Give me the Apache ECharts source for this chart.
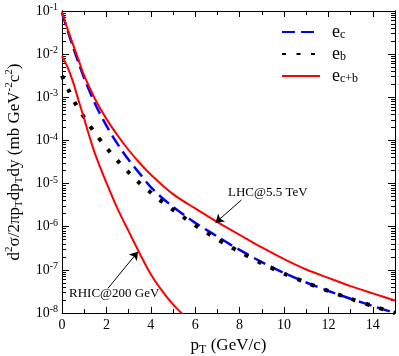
<!DOCTYPE html>
<html>
<head>
<meta charset="utf-8">
<script src="https://cdn.jsdelivr.net/npm/echarts@6/dist/echarts.min.js"></script>
<style>
html, body { margin: 0; padding: 0; background: #fff; }
#chart { width: 399px; height: 356px; }
</style>
</head>
<body>
<div id="chart"></div>
<script>
// LHC@5.5 TeV, charm + bottom electrons
var ptLhcCB = [0, 0.25, 0.5, 0.75, 1, 1.5, 2, 2.5, 3, 3.5, 4, 5, 6, 7, 8, 9, 10, 11, 12, 13, 14, 15];
var lhcCB = [9.5e-2, 3.8e-2, 1.66e-2, 7.3e-3, 3.16e-3, 8.9e-4, 3.16e-4, 1.32e-4, 6.0e-5, 3.0e-5, 1.62e-5,
	5.7e-6, 2.65e-6, 1.28e-6, 6.5e-7, 3.3e-7, 1.78e-7, 1.02e-7, 6.5e-8, 4.2e-8, 2.85e-8, 1.95e-8];

// LHC, charm electrons
var ptLhcC = [0, 0.25, 0.5, 0.75, 1, 1.5, 2, 2.5, 3, 3.5, 4, 4.5, 5, 5.5, 6, 6.5, 7, 7.5, 8, 9, 10, 11, 12, 13, 14, 15];
var lhcC = [9.1e-2, 3.55e-2, 1.45e-2, 6.2e-3, 2.75e-3, 6.9e-4, 2.2e-4, 8.3e-5, 3.55e-5, 1.7e-5, 8.3e-6, 4.7e-6,
	2.9e-6, 1.86e-6, 1.23e-6, 8.5e-7, 5.9e-7, 4.1e-7, 2.9e-7, 1.51e-7, 8.5e-8, 5.1e-8, 3.24e-8, 2.14e-8, 1.45e-8, 1.0e-8];

// LHC, bottom electrons
var ptLhcB = [0, 0.3, 0.6, 1, 1.5, 2, 2.5, 3, 3.5, 4, 4.5, 5, 5.5, 6, 6.5, 7, 7.5, 8, 9, 10, 11, 12, 13, 14, 15];
var lhcB = [3.16e-3, 1.45e-3, 7.2e-4, 3.4e-4, 1.45e-4, 6.8e-5, 3.4e-5, 1.82e-5, 1.02e-5, 6.2e-6, 3.8e-6, 2.45e-6,
	1.62e-6, 1.08e-6, 7.4e-7, 5.1e-7, 3.63e-7, 2.6e-7, 1.41e-7, 8.2e-8, 5.07e-8, 3.24e-8, 2.14e-8, 1.45e-8, 1.0e-8];

// RHIC@200 GeV, charm + bottom electrons
var ptRhicCB = [0, 0.25, 0.5, 0.75, 1, 1.25, 1.5, 2, 2.5, 3, 3.5, 4, 4.5, 5, 5.5, 6];
var rhicCB = [9.0e-3, 5.0e-3, 2.24e-3, 8.3e-4, 3.16e-4, 1.17e-4, 4.7e-5, 1.05e-5, 2.63e-6, 7.9e-7, 2.4e-7,
	7.9e-8, 3.3e-8, 1.58e-8, 8.7e-9, 5.0e-9];

var xTicks = [0, 2, 4, 6, 8, 10, 12, 14];
var yDecades = [1e-8, 1e-7, 1e-6, 1e-5, 1e-4, 1e-3, 1e-2, 1e-1];

var serif = '"Liberation Serif", "DejaVu Serif", serif';

function pairs(xs, ys) {
	return xs.map(function(x, i){ return [x, ys[i]]; });
}

var yMinor = [];
yDecades.slice(0, -1).forEach(function(d){
	for (var m = 2; m <= 9; m++) {
		yMinor.push(m * d);
	}
});

function yAxis(pos, labels, ticks, len) {
	return {
		type: 'log',
		logBase: 10,
		min: 1e-8,
		max: 1e-1,
		position: pos,
		axisLine: {show: true, lineStyle: {color: '#000', width: 1}},
		axisTick: {show: true, inside: true, length: len, customValues: ticks, lineStyle: {color: '#000'}},
		axisLabel: {
			show: labels,
			customValues: yDecades,
			margin: 4,
			formatter: function(v){
				return '{b|10}{s|' + Math.round(Math.log10(v)) + '}';
			},
			rich: {
				b: {fontSize: 14, fontFamily: serif, color: '#000', lineHeight: 17},
				s: {fontSize: 10, fontFamily: serif, color: '#000', verticalAlign: 'top', lineHeight: 10}
			}
		},
		splitLine: {show: false}
	};
}

function xAxis(pos, labels) {
	return {
		type: 'value',
		min: 0,
		max: 15,
		interval: 2,
		position: pos,
		axisLine: {show: true, onZero: false, lineStyle: {color: '#000', width: 1}},
		axisTick: {show: true, inside: true, length: 6, lineStyle: {color: '#000'}},
		minorTick: {show: true, splitNumber: 2, length: 4, lineStyle: {color: '#000'}},
		axisLabel: {show: labels, margin: 5, fontSize: 14, fontFamily: serif, color: '#000', customValues: xTicks},
		splitLine: {show: false}
	};
}

var xBottom = xAxis('bottom', true);
xBottom.name = '{n|p}{b|T}{n| (GeV/c)}';
xBottom.nameLocation = 'middle';
xBottom.nameGap = 19;
xBottom.nameTextStyle = {
	rich: {
		n: {fontSize: 17, fontFamily: serif, color: '#000', lineHeight: 20},
		b: {fontSize: 12, fontFamily: serif, color: '#000', verticalAlign: 'bottom', lineHeight: 11}
	}
};

var yLeft = yAxis('left', true, yDecades, 7);
yLeft.name = '{n|d}{p|2}{n|σ/2πp}{b|T}{n|dp}{b|T}{n|dy (mb GeV}{p|-2}{n|c}{p|2}{n|)}';
yLeft.nameLocation = 'middle';
yLeft.nameRotate = 90;
yLeft.nameGap = 37;
yLeft.nameTextStyle = {
	rich: {
		n: {fontSize: 17, fontFamily: serif, color: '#000', lineHeight: 21},
		p: {fontSize: 11, fontFamily: serif, color: '#000', verticalAlign: 'top', lineHeight: 10},
		b: {fontSize: 11, fontFamily: serif, color: '#000', verticalAlign: 'bottom', lineHeight: 10}
	}
};

var legendNames = {ec: 'c', eb: 'b', ecb: 'c+b'};

var option = {
	animation: false,
	backgroundColor: '#fff',
	grid: {left: 62, right: 4, top: 11, bottom: 43, containLabel: false, outerBoundsMode: 'none'},
	legend: {
		orient: 'vertical',
		left: 281,
		top: 23,
		itemWidth: 38,
		itemHeight: 14,
		itemGap: 4,
		padding: 0,
		itemStyle: {opacity: 0},
		data: ['ec', 'eb', 'ecb'],
		formatter: function(name){
			return '{e|e}{s|' + legendNames[name] + '}';
		},
		textStyle: {
			rich: {
				e: {fontSize: 18, fontFamily: serif, color: '#000', lineHeight: 18, padding: [0, 0, 0, 7]},
				s: {fontSize: 12, fontFamily: serif, color: '#000', verticalAlign: 'bottom', lineHeight: 11}
			}
		}
	},
	xAxis: [xBottom, xAxis('top', false)],
	yAxis: [yLeft, yAxis('left', false, yMinor, 4), yAxis('right', false, yDecades, 7), yAxis('right', false, yMinor, 4)],
	series: [
		{
			name: 'ec',
			type: 'line',
			data: pairs(ptLhcC, lhcC),
			symbol: 'none',
			smooth: 0.3,
			itemStyle: {color: '#0000ff'},
			lineStyle: {color: '#0000ff', width: 2.5, type: [13, 6]}
		},
		{
			name: 'eb',
			type: 'line',
			data: pairs(ptLhcB, lhcB),
			symbol: 'none',
			smooth: 0.3,
			itemStyle: {color: '#000'},
			lineStyle: {color: '#000', width: 4, type: [4, 10.5], cap: 'butt'}
		},
		{
			name: 'ecb',
			type: 'line',
			data: pairs(ptLhcCB, lhcCB),
			symbol: 'none',
			smooth: 0.3,
			itemStyle: {color: '#ff0000'},
			lineStyle: {color: '#ff0000', width: 2},
			markLine: {
				silent: true,
				symbol: ['none', 'arrow'],
				symbolSize: 8,
				label: {show: false},
				lineStyle: {color: '#000', width: 1, type: 'solid'},
				data: [
					[{coord: [8.08, 4.16e-6]}, {coord: [6.92, 1.24e-6]}],
					[{coord: [2.07, 3.73e-8]}, {coord: [3.42, 2.63e-7]}]
				]
			},
			markPoint: {
				silent: true,
				symbol: 'circle',
				symbolSize: 1,
				itemStyle: {color: 'rgba(0,0,0,0)'},
				label: {show: true, position: 'inside', fontSize: 13, fontFamily: serif, color: '#000'},
				data: [
					{coord: [9.27, 6.1e-6], label: {formatter: 'LHC@5.5 TeV'}},
					{coord: [2.35, 2.75e-8], label: {formatter: 'RHIC@200 GeV'}}
				]
			}
		},
		{
			name: 'ecb',
			type: 'line',
			data: pairs(ptRhicCB, rhicCB),
			symbol: 'none',
			smooth: 0.3,
			itemStyle: {color: '#ff0000'},
			lineStyle: {color: '#ff0000', width: 2}
		}
	]
};

var chart = echarts.init(document.getElementById('chart'));
chart.setOption(option);
</script>
</body>
</html>
